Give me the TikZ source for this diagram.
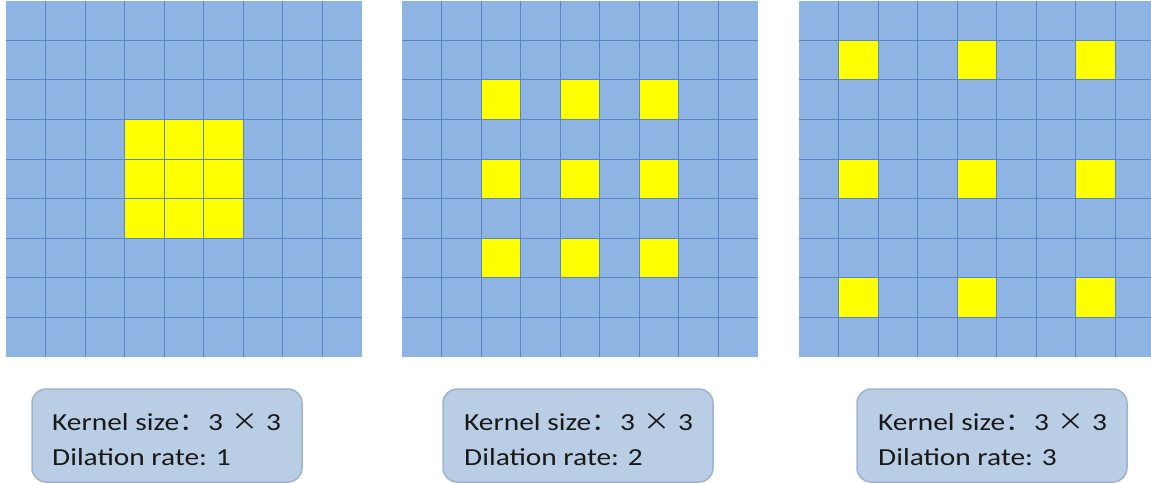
\documentclass[tikz,border=0pt]{standalone}
\usepackage{fontspec}
\setmainfont{Carlito}[FakeStretch=1.2]
\newfontfamily\cjk{Noto Sans CJK SC}[FakeStretch=1.1]
\definecolor{gridblue}{HTML}{8EB4E3}
\definecolor{gridline}{HTML}{5A87C2}
\definecolor{kyellow}{HTML}{FFFF00}
\definecolor{boxfill}{HTML}{B9CDE5}
\definecolor{boxline}{HTML}{9DB3CF}
\newcommand{\kline}{Kernel size{\cjk ：}\hspace{2pt}3\hspace{2pt} {\cjk ×}\hspace{1pt} 3}
\tikzset{
  boxlabel/.style={draw=boxline, line width=1.5pt, fill=boxfill, rounded corners=14pt,
    minimum width=270pt, minimum height=93pt, inner sep=0pt},
  boxtext/.style={font=\fontsize{24.5}{35}\selectfont, align=left, inner sep=0pt, anchor=west, text=black!90}
}
\newcommand{\cellsz}{39.5}
\newcommand{\drawgrid}[3]{% x0, y0, list of yellow cells (col/row)
  \fill[gridblue] (#1,#2) rectangle ++(355.5,356);
  \foreach \c/\r in {#3} {
    \fill[kyellow] ({#1+\c*\cellsz},{#2+\r*\cellsz}) rectangle ++(\cellsz,\cellsz);
  }
  \foreach \i in {1,...,8} {
    \draw[gridline, line width=1pt] ({#1+\i*\cellsz},#2) -- ++(0,356);
    \draw[gridline, line width=1pt] (#1,{#2+\i*\cellsz}) -- ++(355.5,0);
  }
}
\begin{document}
\begin{tikzpicture}[x=1pt,y=-1pt]
\useasboundingbox (0,0) rectangle (1151,484);
\clip (0,0) rectangle (1151,484);
\drawgrid{6}{1}{3/3,4/3,5/3,3/4,4/4,5/4,3/5,4/5,5/5}
\drawgrid{402}{1}{2/2,4/2,6/2,2/4,4/4,6/4,2/6,4/6,6/6}
\drawgrid{799}{1}{1/1,4/1,7/1,1/4,4/4,7/4,1/7,4/7,7/7}
\node[boxlabel] (b1) at (167,435.5) {};
\node[boxlabel] (b2) at (578,435.5) {};
\node[boxlabel] (b3) at (992,435.5) {};
\node[boxtext] (t1) at (52,440) {\kline\\Dilation rate: 1};
\node[boxtext] (t2) at (464,440) {\kline\\Dilation rate: 2};
\node[boxtext] (t3) at (878,440) {\kline\\Dilation rate: 3};
\end{tikzpicture}
\end{document}
